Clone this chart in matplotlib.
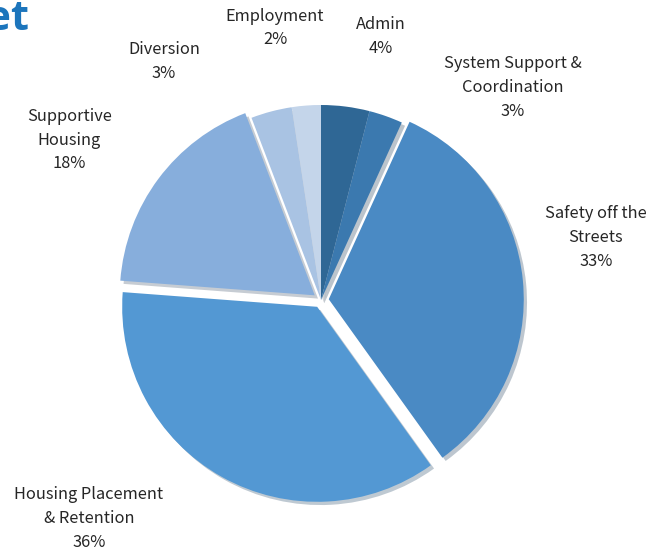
import matplotlib.pyplot as plt

# Budget share by program area (%)
categories = ["Admin", "System Support &\nCoordination", "Safety off the\nStreets",
              "Housing Placement\n& Retention", "Supportive\nHousing", "Diversion", "Employment"]
shares = [4.0, 2.8, 33.3, 36.1, 18.0, 3.4, 2.4]
colors = ["#2F6795", "#3B79AF", "#4A8AC4", "#5398D3", "#87AEDC", "#A9C3E3", "#C4D5EA"]
explode = [0, 0, 0.04, 0.04, 0.04, 0, 0]

# label block centres in data units (pie radius = 1)
label_pos = [(0.308, 1.35), (0.985, 1.09), (1.41, 0.32), (-1.19, -1.12),
             (-1.29, 0.82), (-0.805, 1.225), (-0.236, 1.395)]

plt.rcParams['font.family'] = ['Noto Sans CJK JP', 'DejaVu Sans']

fig = plt.figure(figsize=(6.63, 5.55), dpi=100)
cx, cy, r = 321, 300, 195
ax = fig.add_axes([(cx - r) / 663, (555 - cy - r) / 555, 2 * r / 663, 2 * r / 555])

wedges, _ = ax.pie(shares, colors=colors, explode=explode, startangle=90,
                   counterclock=False, radius=1,
                   shadow={'ox': 0.012, 'oy': -0.012, 'shade': 0.5, 'alpha': 0.3},
                   wedgeprops={'linewidth': 0})
for w in wedges:
    w.set_clip_on(False)

for cat, val, (x, y) in zip(categories, shares, label_pos):
    ax.text(x, y, f"{cat}\n{round(val)}%", ha="center", va="center",
            fontsize=11.8, color="#262626", linespacing=1.52, clip_on=False)

ax.set_xlim(-1, 1)
ax.set_ylim(-1, 1)
ax.set_aspect("equal")
ax.axis("off")

# title fragment cut at the left edge
fig.text(29 / 663, 1 - 30 / 555, "Budget", ha="right", va="baseline",
         fontsize=30, fontweight="bold", color="#1C75BC", family="Open Sans")

fig.savefig("out.png", dpi=100)
